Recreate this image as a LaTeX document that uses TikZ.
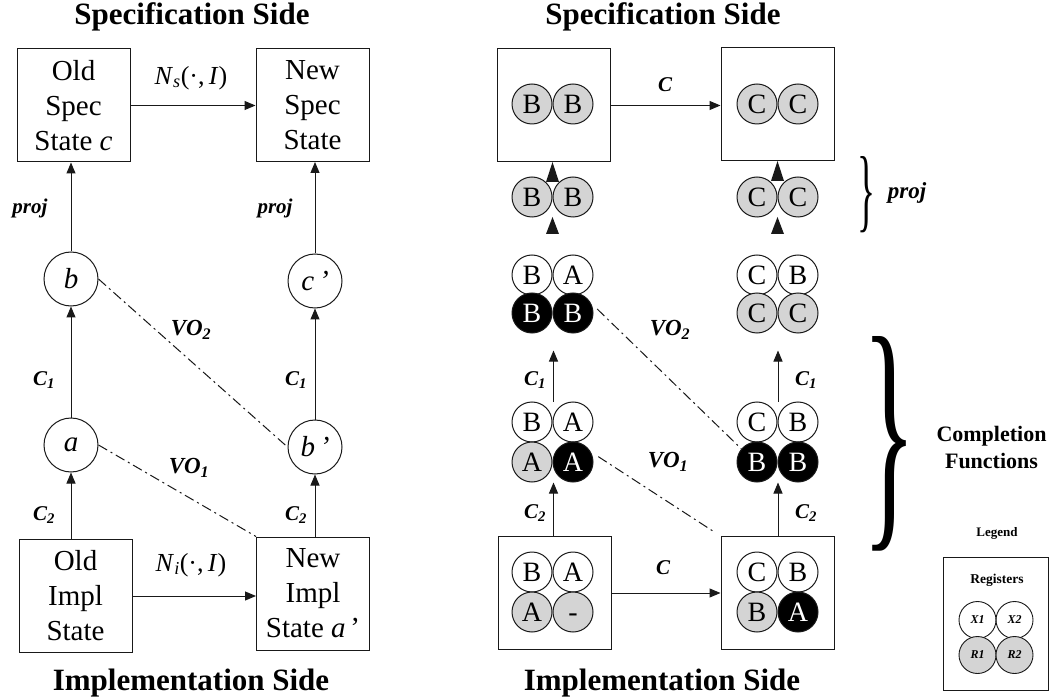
\documentclass[tikz,border=0pt]{standalone}
\usepackage{fontspec}
\usepackage{graphicx}
\setmainfont{Liberation Serif}
\usetikzlibrary{arrows.meta}
\definecolor{regfill}{RGB}{212,212,212}
\definecolor{ink}{RGB}{25,25,25}
\tikzset{
  box/.style={draw=ink, line width=1pt, minimum width=113pt, minimum height=113pt, inner sep=0pt, align=center, font=\fontsize{29}{35}\selectfont},
  sqbox/.style={draw=ink, line width=1pt, minimum width=113pt, minimum height=113pt, inner sep=0pt},
  state/.style={circle, draw=ink, line width=1pt, minimum size=54pt, inner sep=0pt, font=\fontsize{29}{29}\selectfont\itshape},
  arr/.style={draw=ink, line width=1pt, -{Triangle[length=11pt,width=9pt]}},
  lbl/.style={font=\fontsize{21}{21}\selectfont\bfseries\itshape, inner sep=0pt},
  volbl/.style={font=\fontsize{23}{23}\selectfont\bfseries\itshape, inner sep=0pt},
  ttl/.style={font=\fontsize{31}{31}\selectfont\bfseries, inner sep=0pt},
  vo/.style={draw=ink, line width=1pt, dash pattern=on 10pt off 4pt on 2pt off 4pt},
  reg/.style={circle, draw=ink, line width=1pt, minimum size=40pt, inner sep=0pt, font=\fontsize{28}{28}\selectfont},
  regg/.style={reg, fill=regfill},
  regk/.style={reg, fill=black, text=white},
  lreg/.style={circle, draw=ink, line width=0.9pt, minimum size=37pt, inner sep=0pt, font=\fontsize{12}{12}\selectfont\bfseries\itshape},
}
\begin{document}
\begin{tikzpicture}[x=1pt,y=-1pt]
\useasboundingbox[fill=white] (0,0) rectangle (1054,700);

% ================= LEFT PANEL =================
\node[ttl] (t1) at (192,17) {Specification Side};
\node[box] (os) at (73.5,105.5) {Old\\Spec\\State \textit{c}};
\node[box] (ns) at (312.5,105) {New\\Spec\\State};
\node[state] (b) at (71,279) {b};
\node[state] (cp) at (315,281) {c\,’};
\node[state] (a) at (71,445) {a};
\node[state] (bp) at (315,447) {b\,’};
\node[box] (oi) at (75.5,596) {Old\\Impl\\State};
\node[box] (ni) at (313,593.5) {New\\Impl\\State \textit{a}\,’};
\node[ttl] (t2) at (191,683) {Implementation Side};

\draw[arr] (os.east) -- (os.east -| ns.west);
\draw[arr] (oi.east) -- (oi.east -| ni.west);
\node[font=\fontsize{26}{26}\selectfont] (nsl) at (191,78) {\textit{N}\textsubscript{\textit{s}}(·,\,\textit{I})};
\node[font=\fontsize{26}{26}\selectfont] (nil) at (191,565) {\textit{N}\textsubscript{\textit{i}}(·,\,\textit{I})};

\draw[arr] (a.south |- oi.north) -- (a.south);
\draw[arr] (a.north) -- (b.south);
\draw[arr] (b.north) -- (b.north |- os.south);
\draw[arr] (bp.south |- ni.north) -- (bp.south);
\draw[arr] (bp.north) -- (cp.south);
\draw[arr] (cp.north) -- (cp.north |- ns.south);

\node[lbl] (pj1) at (30,208) {proj};
\node[lbl] (pj2) at (275,208) {proj};
\node[lbl] (c1a) at (44,380) {C\textsubscript{1}};
\node[lbl] (c2a) at (44,515) {C\textsubscript{2}};
\node[lbl] (c1b) at (296,380) {C\textsubscript{1}};
\node[lbl] (c2b) at (296,515) {C\textsubscript{2}};

\draw[vo] (b.0) -- (bp.180);
\draw[vo] (a.0) -- (ni.north west);
\node[volbl] (vo2a) at (191,330) {VO\textsubscript{2}};
\node[volbl] (vo1a) at (189,468) {VO\textsubscript{1}};

% ================= RIGHT PANEL =================
\node[ttl] (t3) at (663,17) {Specification Side};
\node[ttl] (t4) at (662,683) {Implementation Side};

\node[sqbox] (ls) at (553.5,105.5) {};
\node[sqbox] (rs) at (777.5,104.5) {};
\node[sqbox] (lb) at (554.5,593) {};
\node[sqbox] (rb) at (777.5,593) {};

% spec rows
\node[regg] (ls1) at (532,104) {B};
\node[regg] (ls2) at (573,104) {B};
\node[regg] (rs1) at (757,104) {C};
\node[regg] (rs2) at (798,104) {C};
% proj rows
\node[regg] (lp1) at (532,197) {B};
\node[regg] (lp2) at (573,197) {B};
\node[regg] (rp1) at (757,197) {C};
\node[regg] (rp2) at (798,197) {C};
% top impl rows
\node[reg]  (lt1) at (532,275) {B};
\node[reg]  (lt2) at (573,275) {A};
\node[regk] (lt3) at (532,313) {B};
\node[regk] (lt4) at (573,313) {B};
\node[reg]  (rt1) at (757,275) {C};
\node[reg]  (rt2) at (798,275) {B};
\node[regg] (rt3) at (757,313) {C};
\node[regg] (rt4) at (798,313) {C};
% middle rows
\node[reg]  (lm1) at (532,422) {B};
\node[reg]  (lm2) at (573,422) {A};
\node[regg] (lm3) at (532,462) {A};
\node[regk] (lm4) at (573,462) {A};
\node[reg]  (rm1) at (757,422) {C};
\node[reg]  (rm2) at (798,422) {B};
\node[regk] (rm3) at (757,462) {B};
\node[regk] (rm4) at (798,462) {B};
% bottom rows
\node[reg]  (lb1) at (532,572) {B};
\node[reg]  (lb2) at (573,572) {A};
\node[regg] (lb3) at (532,612) {A};
\node[regg] (lb4) at (573,612) {\vphantom{A}-};
\node[reg]  (rb1) at (757,572) {C};
\node[reg]  (rb2) at (798,572) {B};
\node[regg] (rb3) at (757,612) {B};
\node[regk] (rb4) at (798,612) {A};

% horizontal C arrows
\draw[arr] (ls.east) -- (ls.east -| rs.west);
\draw[arr] (lb.east) -- (lb.east -| rb.west);
\node[lbl] (cl1) at (665,85) {C};
\node[lbl] (cl2) at (663,568) {C};

% vertical arrows
\coordinate (lx) at (553.5,0);
\coordinate (rx) at (778,0);
\draw[arr] (lx |- lb.north) -- (lx |- lm3.south);
\draw[arr] (lx |- lm1.north) -- ([yshift=-17pt]lx |- lt3.south);
\draw[arr] (rx |- rb.north) -- (rx |- rm3.south);
\draw[arr] (rx |- rm1.north) -- ([yshift=-17pt]rx |- rt3.south);
\node[lbl] (c1c) at (535,380) {C\textsubscript{1}};
\node[lbl] (c2c) at (535,513) {C\textsubscript{2}};
\node[lbl] (c1d) at (806,380) {C\textsubscript{1}};
\node[lbl] (c2d) at (806,513) {C\textsubscript{2}};

% proj triangles
\fill[ink] (552.5,162) -- (546,182) -- (559,182) -- cycle;
\fill[ink] (552.5,217) -- (546,234) -- (559,234) -- cycle;
\fill[ink] (777.5,161) -- (771,181) -- (784,181) -- cycle;
\fill[ink] (777.5,217) -- (771,234) -- (784,234) -- cycle;

% VO lines
\draw[vo, shorten <=9pt] (lt4.30) -- (rm3.140);
\draw[vo, shorten <=9pt, shorten >=6pt] (lm4.30) -- (rb.north west);
\node[volbl] (vo2b) at (670,330) {VO\textsubscript{2}};
\node[volbl] (vo1b) at (668,462) {VO\textsubscript{1}};

% braces
\node[inner sep=0pt] (pbr) at (866,195) {\resizebox{18pt}{64pt}{\}}};
\node[font=\fontsize{23}{23}\selectfont\bfseries\itshape, inner sep=0pt] (pjr) at (907,193) {proj};
\node[inner sep=0pt] (cbr) at (890,444) {\resizebox{54pt}{180pt}{\}}};
\node[font=\fontsize{22}{27}\selectfont\bfseries, align=center, inner sep=0pt] (cf) at (991.5,447) {Completion\\Functions};

% legend
\node[font=\fontsize{13}{13}\selectfont\bfseries, inner sep=0pt] (lg) at (997,533) {Legend};
\node[draw=ink, line width=1pt, minimum width=105pt, minimum height=133pt, inner sep=0pt] (lgb) at (995.5,623.5) {};
\node[font=\fontsize{13.5}{13.5}\selectfont\bfseries, inner sep=0pt] (rgs) at (997,580) {Registers};
\node[lreg] (x1) at (977.5,620) {X1};
\node[lreg] (x2) at (1014.5,620) {X2};
\node[lreg, fill=regfill] (rr1) at (977.5,655) {R1};
\node[lreg, fill=regfill] (rr2) at (1014.5,655) {R2};
\end{tikzpicture}
\end{document}
